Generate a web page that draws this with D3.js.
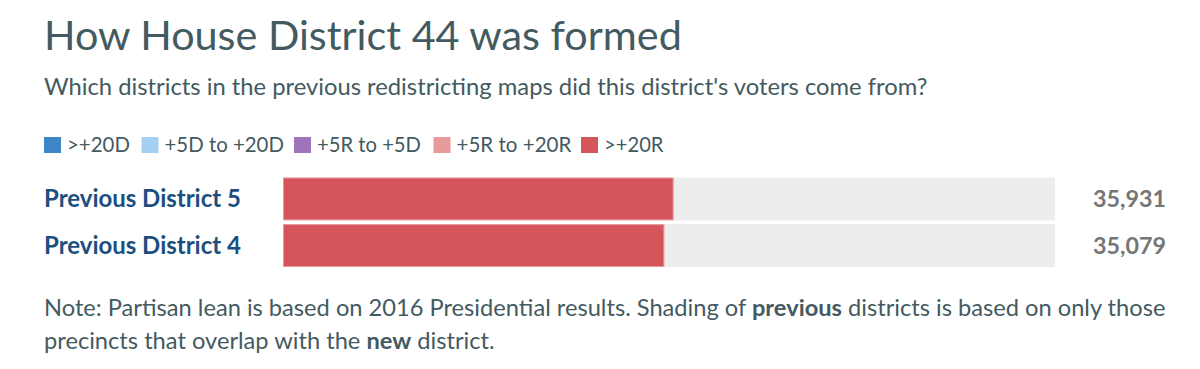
<!DOCTYPE html>
<html><head><meta charset="utf-8">
<script src="https://cdn.jsdelivr.net/npm/d3@7"></script>
<style>
html,body{margin:0;padding:0;background:#fff;}
svg{display:block;font-family:Lato,"Open Sans",sans-serif;}
</style></head><body>
<svg id="c" width="1200" height="369"></svg>
<script>
const title = "How House District 44 was formed";
const subtitle = "Which districts in the previous redistricting maps did this district's voters come from?";
const legendLabels = [">+20D", "+5D to +20D", "+5R to +5D", "+5R to +20R", ">+20R"];
const legendColors = ["#3d87c8", "#a3d0f3", "#a074b8", "#e79a9c", "#d4555a"];
const categories = ["Previous District 5", "Previous District 4"];
const values = [35931, 35079];
const leanClass = [">+20R", ">+20R"];

const svg = d3.select("#c");
const textColor = "#435a60";

// scale font so that rendered text width hits a target width
function fit(sel, base, target) {
  sel.attr("font-size", base);
  const w = sel.node().getComputedTextLength();
  sel.attr("font-size", base * target / w);
  return sel;
}

fit(svg.append("text").attr("x", 44).attr("y", 50)
  .attr("fill", textColor).text(title), 40, 638);
fit(svg.append("text").attr("x", 44).attr("y", 95)
  .attr("fill", textColor).text(subtitle), 22, 884);

// legend
const legendX = [44, 141.5, 294, 433.5, 581];
const legendTextW = [63, 119.5, 104, 115, 59.5];
legendLabels.forEach((l, i) => {
  const g = svg.append("g").attr("transform", `translate(${legendX[i]},137)`);
  g.append("rect").attr("width", 17).attr("height", 16).attr("fill", legendColors[i]);
  fit(g.append("text").attr("x", 23).attr("y", 15)
    .attr("fill", textColor).text(l), 20, legendTextW[i]);
});
const color = d3.scaleOrdinal().domain(legendLabels).range(legendColors);

const total = d3.sum(values);
const x = d3.scaleLinear().domain([0, total]).range([283, 1055]);
const y = d3.scaleBand().domain(categories).range([177.5, 267]).paddingInner(0.08);

svg.selectAll("rect.track").data(categories).enter().append("rect")
  .attr("class", "track")
  .attr("x", x(0)).attr("y", d => y(d))
  .attr("width", x(total) - x(0)).attr("height", y.bandwidth())
  .attr("fill", "#ededed");

svg.selectAll("rect.bar").data(values).enter().append("rect")
  .attr("class", "bar")
  .attr("x", x(0) + 0.5).attr("y", (d, i) => y(categories[i]) + 0.5)
  .attr("width", d => x(d) - x(0) - 1).attr("height", y.bandwidth() - 1)
  .attr("fill", (d, i) => color(leanClass[i]))
  .attr("stroke", "#e8989b").attr("stroke-width", 1);

svg.selectAll("text.cat").data(categories).enter().append("text")
  .attr("class", "cat")
  .attr("x", 44).attr("y", d => y(d) + y.bandwidth() / 2 + 8.3)
  .attr("font-weight", "bold").attr("fill", "#1b4f80")
  .text(d => d)
  .each(function() { fit(d3.select(this), 22, 197); });

const fmt = d3.format(",");
svg.selectAll("text.val").data(values).enter().append("text")
  .attr("class", "val")
  .attr("x", 1166).attr("y", (d, i) => y(categories[i]) + y.bandwidth() / 2 + 8.3)
  .attr("text-anchor", "end")
  .attr("font-weight", "bold").attr("fill", "#767676")
  .text(d => fmt(d))
  .each(function() { fit(d3.select(this), 22, 73); });

// note
const t1 = svg.append("text").attr("x", 44).attr("y", 316).attr("fill", textColor);
t1.append("tspan").text("Note: Partisan lean is based on 2016 Presidential results. Shading of ");
t1.append("tspan").attr("font-weight", "bold").text("previous");
t1.append("tspan").text(" districts is based on only those");
fit(t1, 22, 1122);
const noteSize = +t1.attr("font-size");
const t2 = svg.append("text").attr("x", 44).attr("y", 349).attr("fill", textColor)
  .attr("font-size", noteSize);
t2.append("tspan").text("precincts that overlap with the ");
t2.append("tspan").attr("font-weight", "bold").text("new");
t2.append("tspan").text(" district.");
</script>
</body></html>
